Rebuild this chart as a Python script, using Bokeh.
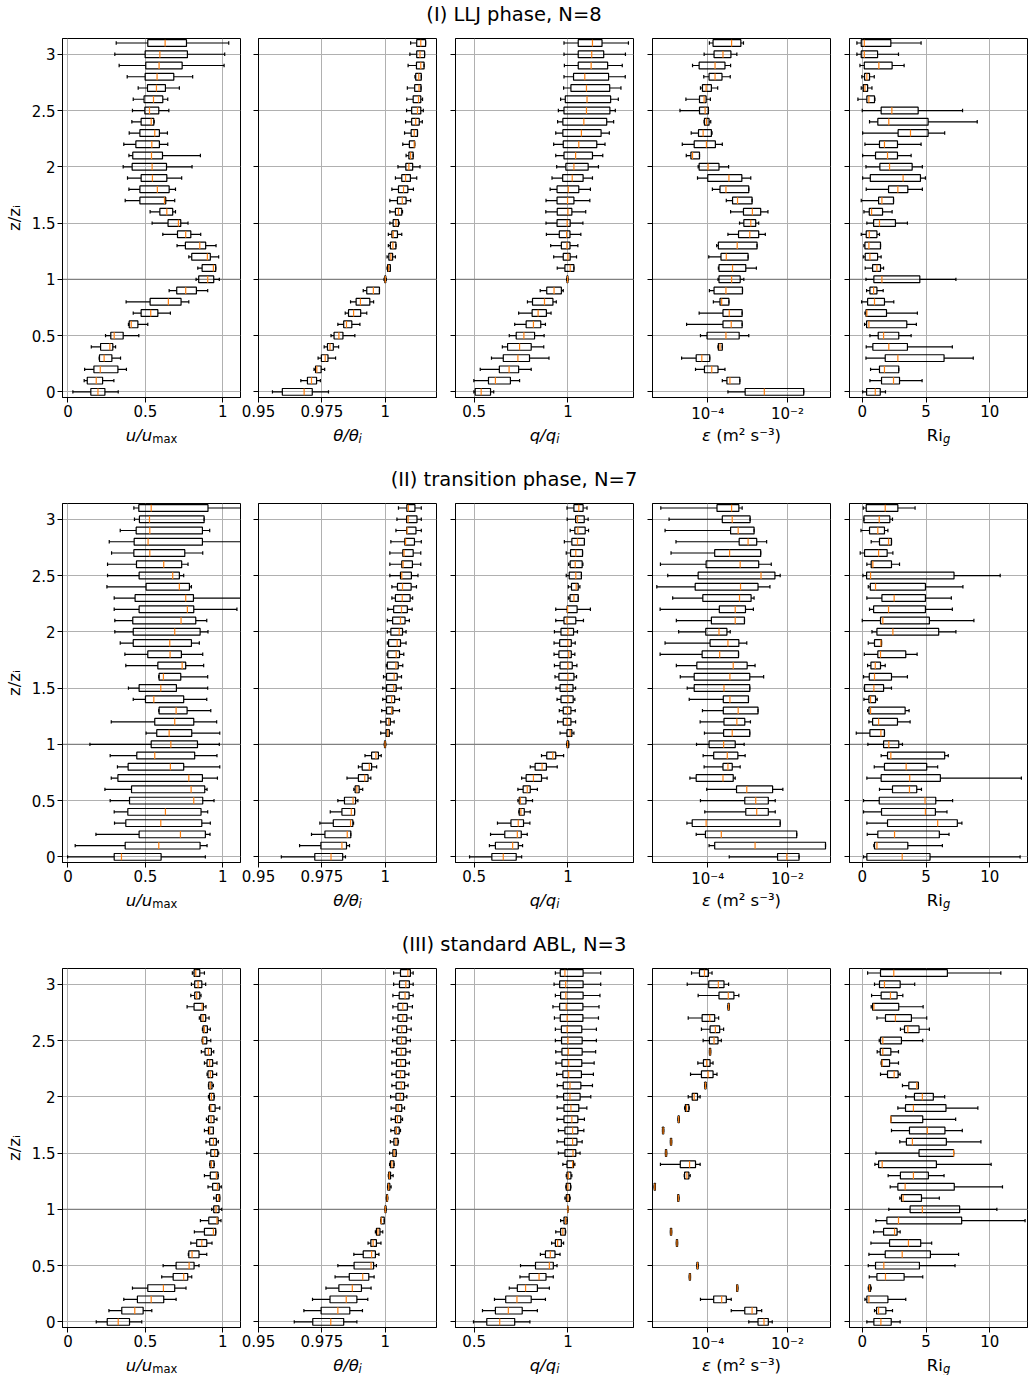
from bokeh.plotting import figure
from bokeh.models import (Range1d, FixedTicker, CustomJSTickFormatter, Span,
                          ColumnDataSource, Div)
from bokeh.core.properties import value
from bokeh.layouts import row, column
from bokeh.embed import file_html
from bokeh.resources import INLINE

# ---------------- data ----------------
# height levels z/z_i, listed from top (3.1) to bottom (0.0)
Z = [3.1, 3.0, 2.9, 2.8, 2.7, 2.6, 2.5, 2.4, 2.3, 2.2, 2.1, 2.0, 1.9, 1.8, 1.7, 1.6,
     1.5, 1.4, 1.3, 1.2, 1.1, 1.0, 0.9, 0.8, 0.7, 0.6, 0.5, 0.4, 0.3, 0.2, 0.1, 0.0]

ROW_TITLES = ["(I) LLJ phase, N=8", "(II) transition phase, N=7", "(III) standard ABL, N=3"]
Y_TICKS = [0, 0.5, 1, 1.5, 2, 2.5, 3]
Y_LABEL = "z/zᵢ"

# each record: (lower whisker, q1, median, q3, upper whisker)
# ---- (I) LLJ phase ----
LLJ_U = [
    (0.312, 0.516, 0.628, 0.766, 1.039), (0.303, 0.499, 0.594, 0.772, 1.013),
    (0.331, 0.503, 0.589, 0.738, 1.009), (0.383, 0.499, 0.576, 0.684, 0.806),
    (0.454, 0.514, 0.572, 0.630, 0.720), (0.422, 0.492, 0.553, 0.613, 0.645),
    (0.417, 0.497, 0.527, 0.587, 0.652), (0.413, 0.473, 0.538, 0.555, 0.557),
    (0.396, 0.465, 0.561, 0.591, 0.643), (0.361, 0.439, 0.542, 0.591, 0.645),
    (0.394, 0.419, 0.540, 0.611, 0.856), (0.357, 0.415, 0.544, 0.637, 0.802),
    (0.385, 0.473, 0.546, 0.639, 0.735), (0.394, 0.465, 0.578, 0.654, 0.695),
    (0.370, 0.465, 0.624, 0.632, 0.690), (0.531, 0.594, 0.639, 0.677, 0.695),
    (0.544, 0.647, 0.714, 0.729, 0.776), (0.613, 0.708, 0.761, 0.794, 0.858),
    (0.705, 0.759, 0.852, 0.890, 0.957), (0.781, 0.800, 0.901, 0.920, 0.974),
    (0.839, 0.867, 0.940, 0.955, 0.955), (0.828, 0.845, 0.903, 0.942, 0.978),
    (0.654, 0.703, 0.761, 0.830, 0.903), (0.376, 0.531, 0.649, 0.731, 0.781),
    (0.422, 0.473, 0.535, 0.581, 0.662), (0.391, 0.396, 0.409, 0.452, 0.516),
    (0.243, 0.277, 0.299, 0.357, 0.458), (0.151, 0.211, 0.271, 0.290, 0.308),
    (0.202, 0.204, 0.234, 0.284, 0.340), (0.108, 0.168, 0.209, 0.323, 0.378),
    (0.105, 0.125, 0.183, 0.224, 0.297), (0.032, 0.148, 0.194, 0.239, 0.325),
]
LLJ_TH = [
    (1.0100, 1.0124, 1.0140, 1.0159, 1.0159), (1.0097, 1.0124, 1.0137, 1.0155, 1.0155),
    (1.0090, 1.0123, 1.0140, 1.0153, 1.0153), (1.0117, 1.0120, 1.0132, 1.0142, 1.0142),
    (1.0087, 1.0116, 1.0133, 1.0141, 1.0141), (1.0085, 1.0110, 1.0131, 1.0140, 1.0147),
    (1.0084, 1.0104, 1.0127, 1.0140, 1.0150), (1.0080, 1.0104, 1.0120, 1.0134, 1.0146),
    (1.0076, 1.0102, 1.0114, 1.0127, 1.0127), (1.0069, 1.0095, 1.0114, 1.0116, 1.0116),
    (1.0082, 1.0093, 1.0100, 1.0110, 1.0110), (1.0050, 1.0081, 1.0093, 1.0108, 1.0137),
    (1.0040, 1.0065, 1.0080, 1.0099, 1.0124), (1.0026, 1.0052, 1.0072, 1.0089, 1.0111),
    (1.0018, 1.0048, 1.0067, 1.0082, 1.0100), (1.0018, 1.0040, 1.0052, 1.0065, 1.0068),
    (1.0018, 1.0031, 1.0042, 1.0052, 1.0055), (1.0012, 1.0026, 1.0031, 1.0048, 1.0065),
    (1.0012, 1.0020, 1.0030, 1.0042, 1.0042), (1.0007, 1.0014, 1.0022, 1.0029, 1.0040),
    (1.0007, 1.0009, 1.0013, 1.0020, 1.0020), (0.9995, 0.9998, 1.0000, 1.0002, 1.0004),
    (0.9913, 0.9927, 0.9953, 0.9977, 0.9977), (0.9863, 0.9885, 0.9902, 0.9939, 0.9954),
    (0.9842, 0.9855, 0.9875, 0.9903, 0.9927), (0.9813, 0.9836, 0.9847, 0.9868, 0.9900),
    (0.9786, 0.9798, 0.9817, 0.9833, 0.9880), (0.9759, 0.9772, 0.9782, 0.9795, 0.9816),
    (0.9735, 0.9748, 0.9763, 0.9774, 0.9804), (0.9719, 0.9725, 0.9730, 0.9747, 0.9761),
    (0.9667, 0.9693, 0.9709, 0.9729, 0.9744), (0.9555, 0.9594, 0.9680, 0.9712, 0.9776),
]
LLJ_Q = [
    (0.979, 1.055, 1.131, 1.182, 1.323), (0.979, 1.055, 1.127, 1.191, 1.307),
    (0.981, 1.055, 1.124, 1.212, 1.290), (0.979, 1.030, 1.090, 1.217, 1.306),
    (0.977, 1.016, 1.099, 1.223, 1.283), (0.961, 0.986, 1.102, 1.228, 1.269),
    (0.949, 0.979, 1.099, 1.224, 1.253), (0.945, 0.973, 1.085, 1.207, 1.244),
    (0.935, 0.973, 1.072, 1.177, 1.221), (0.924, 0.975, 1.058, 1.154, 1.198),
    (0.935, 0.979, 1.041, 1.131, 1.186), (0.940, 0.989, 1.032, 1.108, 1.163),
    (0.915, 0.972, 1.023, 1.081, 1.131), (0.905, 0.942, 1.002, 1.058, 1.120),
    (0.883, 0.942, 0.998, 1.032, 1.117), (0.882, 0.943, 1.000, 1.021, 1.095),
    (0.883, 0.942, 0.996, 1.012, 1.080), (0.885, 0.954, 0.993, 1.011, 1.069),
    (0.908, 0.965, 0.995, 1.011, 1.053), (0.924, 0.975, 1.000, 1.012, 1.046),
    (0.943, 0.984, 1.012, 1.032, 1.032), (0.993, 0.995, 0.998, 1.000, 1.000),
    (0.852, 0.887, 0.926, 0.965, 0.975), (0.784, 0.811, 0.875, 0.920, 0.938),
    (0.737, 0.809, 0.841, 0.885, 0.910), (0.716, 0.777, 0.816, 0.855, 0.880),
    (0.687, 0.724, 0.765, 0.822, 0.873), (0.650, 0.678, 0.742, 0.804, 0.871),
    (0.592, 0.655, 0.733, 0.795, 0.899), (0.532, 0.634, 0.686, 0.737, 0.804),
    (0.498, 0.576, 0.613, 0.693, 0.742), (0.498, 0.505, 0.537, 0.587, 0.604),
]
# dissipation rate given as log10(eps)
LLJ_EPS = [
    (-3.959, -3.867, -3.402, -3.170, -3.104), (-4.091, -3.842, -3.618, -3.419, -3.270),
    (-4.382, -4.216, -3.817, -3.568, -3.427), (-4.100, -3.967, -3.817, -3.643, -3.436),
    (-4.183, -4.133, -4.041, -3.909, -3.751), (-4.548, -4.207, -4.091, -4.041, -3.934),
    (-4.697, -4.207, -4.066, -3.983, -3.983), (-4.091, -4.083, -4.033, -3.967, -3.925),
    (-4.415, -4.232, -4.116, -3.909, -3.892), (-4.639, -4.340, -4.033, -3.809, -3.635),
    (-4.539, -4.423, -4.382, -4.207, -4.207), (-4.241, -4.216, -3.992, -3.718, -3.477),
    (-4.257, -4.000, -3.469, -3.145, -2.921), (-3.884, -3.693, -3.544, -2.971, -2.971),
    (-3.535, -3.378, -3.253, -2.888, -2.888), (-3.427, -3.104, -2.880, -2.672, -2.490),
    (-3.203, -3.095, -2.921, -2.797, -2.722), (-3.494, -3.228, -2.946, -2.722, -2.556),
    (-3.776, -3.734, -3.261, -2.763, -2.763), (-3.975, -3.668, -3.535, -2.988, -2.988),
    (-3.734, -3.718, -3.378, -3.046, -2.780), (-3.743, -3.718, -3.402, -3.187, -3.095),
    (-3.959, -3.842, -3.544, -3.129, -3.129), (-3.859, -3.693, -3.651, -3.469, -3.469),
    (-4.216, -3.618, -3.461, -3.137, -3.137), (-4.531, -3.618, -3.411, -3.137, -3.137),
    (-4.183, -4.017, -3.544, -3.212, -2.971), (-3.743, -3.734, -3.693, -3.635, -3.635),
    (-4.656, -4.290, -4.149, -3.950, -3.950), (-4.307, -4.083, -3.900, -3.743, -3.568),
    (-3.635, -3.519, -3.444, -3.195, -3.195), (-3.494, -3.062, -2.581, -1.593, -1.593),
]
LLJ_RI = [
    (-0.42, -0.08, 0.16, 2.24, 4.61), (-0.42, -0.08, 0.16, 1.20, 2.84),
    (-0.18, 0.16, 1.30, 2.34, 3.28), (-0.03, 0.18, 0.36, 0.57, 0.94),
    (-0.08, 0.08, 0.21, 0.42, 0.76), (-0.34, 0.36, 0.52, 0.96, 0.99),
    (0.00, 1.48, 2.32, 4.38, 7.86), (0.57, 1.22, 2.08, 5.16, 9.01),
    (0.03, 2.81, 3.78, 5.16, 6.46), (0.21, 1.35, 1.74, 2.76, 4.61),
    (0.03, 1.04, 1.98, 2.76, 3.83), (0.29, 1.38, 2.14, 3.91, 4.71),
    (0.03, 0.63, 3.20, 4.56, 4.95), (0.31, 2.06, 2.79, 3.57, 4.71),
    (-0.08, 1.28, 1.54, 2.45, 2.45), (0.13, 0.55, 0.73, 1.59, 2.34),
    (0.36, 0.89, 1.35, 2.60, 3.54), (-0.08, 0.31, 0.55, 1.15, 1.35),
    (0.13, 0.21, 0.52, 1.43, 1.43), (0.08, 0.23, 0.60, 1.20, 1.48),
    (0.23, 0.81, 1.15, 1.43, 1.67), (0.29, 0.91, 1.54, 4.51, 7.34),
    (0.34, 0.60, 0.89, 1.15, 1.64), (-0.05, 0.42, 0.96, 1.74, 2.47),
    (0.21, 0.29, 0.36, 1.90, 4.32), (0.18, 0.34, 0.52, 3.49, 4.24),
    (0.60, 1.25, 1.67, 2.86, 3.83), (0.31, 0.83, 2.08, 3.54, 7.06),
    (0.29, 1.80, 2.79, 6.41, 8.70), (0.65, 1.35, 1.74, 2.86, 2.86),
    (0.60, 1.51, 2.45, 2.92, 4.69), (0.03, 0.34, 1.02, 1.41, 1.82),
]
# ---- (II) transition phase ----
TR_U = [
    (0.426, 0.458, 0.538, 0.905, 1.150), (0.430, 0.462, 0.527, 0.880, 0.880),
    (0.338, 0.441, 0.529, 0.869, 0.916), (0.267, 0.428, 0.518, 0.869, 1.150),
    (0.282, 0.426, 0.529, 0.755, 0.871), (0.256, 0.443, 0.619, 0.735, 0.776),
    (0.256, 0.460, 0.677, 0.720, 0.748), (0.252, 0.505, 0.720, 0.785, 0.798),
    (0.299, 0.434, 0.761, 0.811, 1.150), (0.299, 0.460, 0.772, 0.813, 1.092),
    (0.303, 0.419, 0.731, 0.826, 0.897), (0.303, 0.422, 0.690, 0.854, 0.905),
    (0.338, 0.422, 0.658, 0.798, 0.849), (0.368, 0.516, 0.660, 0.733, 0.871),
    (0.374, 0.581, 0.738, 0.761, 0.877), (0.587, 0.589, 0.617, 0.729, 0.903),
    (0.391, 0.460, 0.600, 0.701, 0.903), (0.422, 0.501, 0.555, 0.748, 0.897),
    (0.587, 0.589, 0.699, 0.770, 0.923), (0.280, 0.561, 0.690, 0.813, 0.961),
    (0.505, 0.574, 0.654, 0.800, 0.981), (0.142, 0.538, 0.665, 0.837, 0.978),
    (0.273, 0.445, 0.561, 0.819, 0.963), (0.320, 0.389, 0.662, 0.748, 0.981),
    (0.280, 0.323, 0.781, 0.869, 0.966), (0.239, 0.411, 0.796, 0.884, 0.899),
    (0.273, 0.398, 0.813, 0.871, 0.944), (0.299, 0.387, 0.630, 0.860, 0.903),
    (0.301, 0.374, 0.600, 0.865, 0.920), (0.181, 0.460, 0.727, 0.888, 0.918),
    (0.047, 0.370, 0.587, 0.854, 0.899), (-0.002, 0.299, 0.346, 0.602, 0.888),
]
TR_TH = [
    (1.0052, 1.0085, 1.0091, 1.0117, 1.0142), (1.0046, 1.0084, 1.0090, 1.0125, 1.0142),
    (1.0042, 1.0084, 1.0086, 1.0121, 1.0142), (1.0022, 1.0077, 1.0080, 1.0115, 1.0142),
    (1.0018, 1.0069, 1.0074, 1.0110, 1.0140), (1.0018, 1.0065, 1.0070, 1.0107, 1.0140),
    (1.0018, 1.0060, 1.0065, 1.0103, 1.0129), (1.0026, 1.0048, 1.0068, 1.0102, 1.0123),
    (1.0026, 1.0040, 1.0067, 1.0098, 1.0108), (1.0010, 1.0033, 1.0064, 1.0087, 1.0106),
    (1.0008, 1.0029, 1.0060, 1.0078, 1.0095), (1.0008, 1.0022, 1.0055, 1.0068, 1.0082),
    (1.0008, 1.0013, 1.0047, 1.0060, 1.0082), (1.0007, 1.0010, 1.0043, 1.0056, 1.0073),
    (1.0004, 1.0008, 1.0042, 1.0051, 1.0069), (0.9993, 1.0005, 1.0035, 1.0047, 1.0064),
    (0.9990, 1.0005, 1.0033, 1.0043, 1.0063), (0.9990, 1.0005, 1.0025, 1.0037, 1.0056),
    (0.9986, 1.0005, 1.0025, 1.0030, 1.0056), (0.9982, 1.0003, 1.0014, 1.0020, 1.0035),
    (0.9982, 1.0003, 1.0010, 1.0016, 1.0027), (0.9996, 0.9997, 0.9999, 1.0001, 1.0002),
    (0.9920, 0.9946, 0.9963, 0.9973, 0.9984), (0.9894, 0.9909, 0.9937, 0.9946, 0.9966),
    (0.9849, 0.9894, 0.9919, 0.9932, 0.9943), (0.9876, 0.9881, 0.9888, 0.9897, 0.9911),
    (0.9813, 0.9839, 0.9873, 0.9883, 0.9892), (0.9783, 0.9829, 0.9866, 0.9879, 0.9879),
    (0.9742, 0.9795, 0.9863, 0.9872, 0.9875), (0.9709, 0.9762, 0.9850, 0.9864, 0.9864),
    (0.9662, 0.9746, 0.9829, 0.9847, 0.9859), (0.9590, 0.9722, 0.9786, 0.9832, 0.9843),
]
TR_Q = [
    (0.995, 1.032, 1.058, 1.081, 1.102), (0.996, 1.041, 1.051, 1.087, 1.108),
    (1.012, 1.037, 1.053, 1.092, 1.110), (0.981, 1.021, 1.051, 1.088, 1.088),
    (0.991, 1.014, 1.042, 1.078, 1.078), (1.004, 1.012, 1.039, 1.076, 1.080),
    (0.991, 1.007, 1.042, 1.072, 1.072), (1.002, 1.019, 1.044, 1.055, 1.064),
    (1.002, 1.011, 1.032, 1.055, 1.055), (0.935, 0.996, 0.998, 1.049, 1.120),
    (0.935, 0.979, 0.995, 1.042, 1.083), (0.928, 0.963, 1.000, 1.030, 1.051),
    (0.926, 0.956, 1.000, 1.018, 1.039), (0.926, 0.952, 1.004, 1.018, 1.037),
    (0.928, 0.958, 1.000, 1.023, 1.048), (0.931, 0.952, 1.000, 1.032, 1.046),
    (0.936, 0.958, 0.996, 1.027, 1.041), (0.942, 0.963, 1.000, 1.028, 1.037),
    (0.954, 0.975, 0.998, 1.016, 1.039), (0.945, 0.975, 0.996, 1.016, 1.041),
    (0.958, 0.995, 1.012, 1.021, 1.032), (0.993, 0.995, 0.998, 1.004, 1.004),
    (0.859, 0.887, 0.919, 0.935, 0.977), (0.799, 0.825, 0.862, 0.885, 0.943),
    (0.753, 0.777, 0.816, 0.859, 0.889), (0.733, 0.761, 0.783, 0.799, 0.837),
    (0.733, 0.740, 0.746, 0.776, 0.811), (0.738, 0.740, 0.749, 0.767, 0.799),
    (0.624, 0.696, 0.735, 0.763, 0.797), (0.587, 0.663, 0.730, 0.751, 0.783),
    (0.581, 0.613, 0.705, 0.735, 0.758), (0.475, 0.594, 0.655, 0.724, 0.753),
]
TR_EPS = [
    (-5.178, -3.768, -3.402, -3.220, -3.137), (-4.971, -3.635, -3.386, -2.938, -2.938),
    (-5.071, -3.427, -3.237, -2.838, -2.838), (-4.797, -3.212, -2.988, -2.772, -2.523),
    (-4.921, -3.826, -3.452, -2.672, -2.672), (-5.187, -4.041, -3.187, -2.722, -2.407),
    (-5.004, -4.241, -2.664, -2.315, -2.183), (-5.278, -4.315, -3.178, -2.739, -2.440),
    (-4.880, -4.124, -3.203, -2.913, -2.838), (-5.195, -3.710, -3.311, -3.054, -2.855),
    (-4.788, -3.909, -3.311, -3.079, -3.079), (-4.730, -4.050, -3.718, -3.519, -3.436),
    (-5.071, -3.942, -3.494, -3.220, -3.021), (-5.195, -4.141, -3.701, -3.228, -3.228),
    (-4.788, -4.274, -3.361, -3.012, -2.813), (-4.689, -4.340, -3.444, -2.946, -2.598),
    (-4.515, -4.340, -3.593, -2.946, -2.946), (-4.465, -3.610, -3.444, -2.979, -2.979),
    (-4.133, -3.610, -3.237, -2.739, -2.739), (-4.191, -3.593, -3.270, -3.071, -2.929),
    (-4.083, -3.602, -3.386, -2.946, -2.946), (-4.282, -3.967, -3.602, -3.311, -3.087),
    (-4.116, -3.851, -3.510, -3.245, -3.062), (-4.091, -3.618, -3.494, -3.386, -3.187),
    (-4.448, -4.290, -3.618, -3.361, -3.311), (-4.025, -3.278, -3.021, -2.373, -2.116),
    (-4.183, -3.071, -2.797, -2.481, -2.307), (-4.075, -3.046, -2.772, -2.481, -2.307),
    (-4.523, -4.390, -4.041, -2.183, -2.183), (-4.290, -4.058, -3.660, -1.768, -1.768),
    (-3.967, -3.826, -2.813, -1.046, -1.046), (-3.461, -2.249, -2.017, -1.710, -1.710),
]
TR_RI = [
    (0.08, 0.31, 1.80, 2.79, 4.14), (0.13, 0.13, 1.33, 2.16, 2.37),
    (-0.10, 0.57, 1.22, 1.74, 2.01), (0.70, 1.35, 2.06, 2.29, 2.29),
    (-0.16, 0.18, 1.28, 1.95, 2.40), (0.36, 0.70, 0.83, 2.29, 2.92),
    (0.05, 0.34, 0.65, 7.19, 10.81), (0.47, 0.63, 1.04, 4.95, 7.89),
    (0.36, 1.54, 2.50, 4.95, 6.98), (0.57, 0.89, 2.06, 4.95, 7.06),
    (0.00, 1.43, 1.61, 5.26, 8.75), (0.76, 1.15, 2.40, 5.99, 7.34),
    (0.47, 0.96, 1.46, 1.51, 1.51), (0.16, 1.22, 1.43, 3.41, 4.30),
    (0.42, 0.68, 1.02, 1.43, 1.80), (0.10, 0.55, 0.96, 2.29, 3.54),
    (0.16, 0.18, 0.91, 1.67, 2.29), (0.13, 0.52, 0.65, 1.04, 1.17),
    (0.42, 0.52, 0.65, 3.36, 3.67), (0.52, 0.81, 1.28, 2.76, 3.75),
    (-0.47, 0.60, 1.46, 1.74, 1.74), (0.44, 1.67, 2.08, 2.86, 3.15),
    (1.48, 1.98, 2.24, 6.46, 6.74), (0.94, 1.74, 3.44, 5.05, 5.91),
    (0.36, 1.48, 3.72, 6.12, 12.47), (1.35, 2.37, 3.70, 4.27, 4.64),
    (0.10, 1.33, 4.92, 5.76, 7.08), (0.10, 1.51, 4.95, 5.73, 6.64),
    (0.36, 1.98, 5.91, 7.45, 7.81), (0.39, 1.22, 2.53, 6.04, 6.80),
    (0.91, 0.96, 1.15, 3.57, 6.28), (0.10, 0.36, 3.13, 5.31, 12.37),
]
# ---- (III) standard ABL ----
STD_U = [
    (0.804, 0.815, 0.826, 0.852, 0.882), (0.798, 0.819, 0.841, 0.865, 0.890),
    (0.794, 0.819, 0.832, 0.852, 0.860), (0.770, 0.815, 0.867, 0.875, 0.892),
    (0.849, 0.858, 0.873, 0.890, 0.912), (0.869, 0.873, 0.882, 0.901, 0.920),
    (0.867, 0.869, 0.873, 0.897, 0.923), (0.862, 0.886, 0.908, 0.927, 0.942),
    (0.882, 0.899, 0.916, 0.935, 0.963), (0.899, 0.905, 0.920, 0.935, 0.961),
    (0.908, 0.910, 0.920, 0.931, 0.940), (0.908, 0.914, 0.927, 0.944, 0.946),
    (0.912, 0.916, 0.923, 0.951, 0.981), (0.895, 0.908, 0.925, 0.944, 0.963),
    (0.882, 0.908, 0.916, 0.940, 0.940), (0.892, 0.916, 0.940, 0.959, 0.972),
    (0.897, 0.923, 0.948, 0.968, 0.974), (0.916, 0.918, 0.927, 0.944, 0.946),
    (0.882, 0.920, 0.959, 0.970, 0.972), (0.905, 0.935, 0.966, 0.978, 0.991),
    (0.942, 0.959, 0.974, 0.981, 0.981), (0.929, 0.942, 0.957, 0.976, 0.994),
    (0.856, 0.910, 0.963, 0.970, 0.989), (0.817, 0.882, 0.940, 0.955, 0.955),
    (0.794, 0.832, 0.865, 0.897, 0.931), (0.778, 0.781, 0.802, 0.847, 0.897),
    (0.615, 0.699, 0.783, 0.815, 0.847), (0.606, 0.680, 0.748, 0.774, 0.800),
    (0.417, 0.516, 0.617, 0.690, 0.763), (0.361, 0.449, 0.538, 0.619, 0.699),
    (0.265, 0.348, 0.432, 0.486, 0.542), (0.183, 0.254, 0.325, 0.398, 0.477),
]
STD_TH = [
    (1.0033, 1.0060, 1.0089, 1.0099, 1.0110), (1.0033, 1.0056, 1.0081, 1.0095, 1.0110),
    (1.0030, 1.0055, 1.0078, 1.0094, 1.0110), (1.0030, 1.0050, 1.0069, 1.0087, 1.0107),
    (1.0030, 1.0050, 1.0069, 1.0085, 1.0103), (1.0029, 1.0047, 1.0065, 1.0084, 1.0102),
    (1.0029, 1.0046, 1.0064, 1.0082, 1.0099), (1.0026, 1.0044, 1.0063, 1.0081, 1.0098),
    (1.0026, 1.0044, 1.0061, 1.0080, 1.0095), (1.0026, 1.0043, 1.0060, 1.0077, 1.0093),
    (1.0026, 1.0043, 1.0063, 1.0076, 1.0090), (1.0021, 1.0042, 1.0059, 1.0072, 1.0085),
    (1.0023, 1.0042, 1.0051, 1.0065, 1.0076), (1.0023, 1.0040, 1.0048, 1.0061, 1.0068),
    (1.0022, 1.0038, 1.0044, 1.0055, 1.0060), (1.0020, 1.0034, 1.0042, 1.0050, 1.0052),
    (1.0017, 1.0030, 1.0035, 1.0043, 1.0044), (1.0017, 1.0020, 1.0026, 1.0034, 1.0035),
    (1.0012, 1.0013, 1.0016, 1.0021, 1.0031), (1.0009, 1.0010, 1.0013, 1.0018, 1.0023),
    (1.0004, 1.0005, 1.0008, 1.0009, 1.0010), (0.9999, 0.9999, 1.0000, 1.0003, 1.0003),
    (0.9982, 0.9983, 0.9984, 0.9996, 0.9996), (0.9961, 0.9965, 0.9971, 0.9979, 0.9990),
    (0.9932, 0.9943, 0.9952, 0.9965, 0.9983), (0.9876, 0.9913, 0.9946, 0.9961, 0.9975),
    (0.9813, 0.9877, 0.9944, 0.9954, 0.9965), (0.9802, 0.9858, 0.9911, 0.9935, 0.9956),
    (0.9766, 0.9817, 0.9870, 0.9906, 0.9944), (0.9713, 0.9782, 0.9846, 0.9888, 0.9931),
    (0.9679, 0.9747, 0.9813, 0.9860, 0.9910), (0.9641, 0.9714, 0.9785, 0.9836, 0.9888),
]
STD_Q = [
    (0.933, 0.959, 0.984, 1.081, 1.175), (0.926, 0.956, 0.988, 1.081, 1.175),
    (0.933, 0.961, 0.989, 1.081, 1.171), (0.920, 0.956, 0.991, 1.080, 1.166),
    (0.928, 0.959, 0.996, 1.080, 1.163), (0.933, 0.965, 0.996, 1.074, 1.152),
    (0.933, 0.966, 1.000, 1.076, 1.152), (0.935, 0.968, 1.002, 1.076, 1.148),
    (0.936, 0.968, 1.004, 1.074, 1.140), (0.940, 0.973, 1.004, 1.072, 1.136),
    (0.943, 0.975, 1.011, 1.069, 1.131), (0.942, 0.977, 1.011, 1.065, 1.122),
    (0.943, 0.979, 1.016, 1.058, 1.101), (0.942, 0.979, 1.021, 1.053, 1.088),
    (0.949, 0.984, 1.025, 1.053, 1.085), (0.942, 0.982, 1.025, 1.048, 1.076),
    (0.949, 0.984, 1.027, 1.042, 1.065), (0.973, 0.995, 1.025, 1.030, 1.037),
    (0.991, 0.995, 1.002, 1.016, 1.021), (0.989, 0.991, 1.000, 1.014, 1.016),
    (0.984, 0.991, 1.000, 1.009, 1.012), (0.998, 0.999, 1.000, 1.000, 1.001),
    (0.961, 0.979, 0.988, 0.996, 0.996), (0.935, 0.961, 0.973, 0.986, 0.988),
    (0.913, 0.933, 0.945, 0.965, 0.977), (0.853, 0.880, 0.906, 0.931, 0.958),
    (0.747, 0.827, 0.901, 0.922, 0.942), (0.744, 0.793, 0.846, 0.883, 0.922),
    (0.687, 0.730, 0.774, 0.837, 0.901), (0.608, 0.668, 0.728, 0.804, 0.880),
    (0.544, 0.613, 0.682, 0.756, 0.837), (0.496, 0.567, 0.636, 0.716, 0.797),
]
STD_EPS = [
    (-4.407, -4.207, -4.083, -3.983, -3.892), (-4.515, -3.975, -3.734, -3.593, -3.477),
    (-4.241, -3.718, -3.485, -3.344, -3.220), (-3.492, -3.492, -3.477, -3.462, -3.462),
    (-4.490, -4.141, -3.950, -3.826, -3.726), (-4.158, -3.942, -3.809, -3.701, -3.602),
    (-4.116, -3.959, -3.842, -3.743, -3.660), (-3.957, -3.957, -3.942, -3.927, -3.927),
    (-4.249, -4.108, -4.025, -3.942, -3.867), (-4.432, -4.158, -3.992, -3.867, -3.768),
    (-4.073, -4.073, -4.058, -4.043, -4.043), (-4.490, -4.390, -4.340, -4.257, -4.191),
    (-4.581, -4.564, -4.531, -4.473, -4.465), (-4.745, -4.745, -4.730, -4.715, -4.715),
    (-5.135, -5.135, -5.120, -5.105, -5.105), (-4.936, -4.936, -4.921, -4.906, -4.906),
    (-5.061, -5.061, -5.046, -5.031, -5.031), (-5.187, -4.689, -4.456, -4.307, -4.191),
    (-4.589, -4.581, -4.523, -4.473, -4.440), (-5.343, -5.343, -5.328, -5.313, -5.313),
    (-4.754, -4.754, -4.739, -4.724, -4.724), None,
    None, (-4.936, -4.936, -4.921, -4.906, -4.906),
    (-4.787, -4.787, -4.772, -4.757, -4.757), None,
    (-4.272, -4.272, -4.257, -4.242, -4.242), (-4.463, -4.463, -4.448, -4.433, -4.433),
    (-3.276, -3.276, -3.261, -3.246, -3.246), (-4.183, -3.851, -3.651, -3.535, -3.411),
    (-3.411, -3.071, -2.888, -2.772, -2.647), (-2.971, -2.739, -2.589, -2.481, -2.382),
]
STD_RI = [
    (0.42, 1.43, 2.47, 6.67, 10.86), (0.96, 1.35, 1.74, 2.97, 4.11),
    (0.73, 1.48, 2.21, 2.73, 3.18), (0.70, 0.81, 0.91, 2.86, 4.77),
    (1.15, 1.82, 2.60, 3.85, 5.05), (2.99, 3.31, 3.57, 4.45, 5.26),
    (1.33, 1.43, 1.61, 3.07, 4.74), (1.17, 1.41, 1.61, 2.24, 2.84),
    (1.48, 1.51, 1.56, 2.14, 2.84), (1.43, 1.98, 2.50, 2.81, 2.97),
    (3.15, 3.65, 4.27, 4.40, 4.40), (3.41, 4.09, 4.71, 5.57, 6.46),
    (2.79, 3.39, 4.01, 6.56, 9.06), (2.24, 2.24, 2.24, 4.74, 7.32),
    (2.29, 3.70, 5.10, 6.48, 7.84), (2.94, 3.46, 3.93, 6.59, 9.30),
    (1.07, 4.45, 7.16, 7.16, 7.16), (0.99, 1.28, 1.56, 5.81, 10.10),
    (2.03, 2.99, 4.01, 5.18, 6.41), (2.19, 2.79, 3.36, 7.21, 10.99),
    (2.94, 3.07, 3.20, 4.64, 6.04), (2.08, 3.75, 4.71, 7.63, 10.55),
    (1.07, 1.93, 2.84, 7.79, 12.76), (0.89, 1.67, 2.53, 2.73, 2.97),
    (0.68, 2.14, 3.62, 4.58, 5.44), (0.52, 1.80, 3.13, 5.34, 7.55),
    (0.47, 1.04, 1.69, 4.48, 7.27), (0.55, 1.15, 1.82, 3.28, 4.74),
    (0.47, 0.52, 0.57, 0.65, 0.70), (0.21, 0.36, 0.52, 2.01, 3.41),
    (0.96, 1.12, 1.28, 1.85, 2.37), (0.36, 0.91, 1.46, 2.27, 2.97),
]

ROWS = [
    [LLJ_U, LLJ_TH, LLJ_Q, LLJ_EPS, LLJ_RI],
    [TR_U, TR_TH, TR_Q, TR_EPS, TR_RI],
    [STD_U, STD_TH, STD_Q, STD_EPS, STD_RI],
]

# ---------------- styling / layout ----------------
FONT = "DejaVu Sans"
PAGE_W = 1028
FW, FH = 178, 359
BORDERS = [(62, 1), (17, 2), (17, 2), (17, 2), (17, 1)]   # (left, right) per column
B_TOP, B_BOT = 5, 30
TITLE_H = 33
STRIP_H = [38, 38, 18]
BOX_H = 0.06
CAP_H = 0.03
MEDIAN = "#ff7f0e"
GRID = "#b0b0b0"
TICK_PX = "15px"
LAB = 16.5
SUB = 11.5
LABEL_DROP = 37.5      # axis-label baseline below the frame bottom

# (text, style, size, baseline shift)
COLS = [
    dict(rng=(-0.035, 1.115), ticks=[0, 0.5, 1], log=False,
         label=[("u/u", "italic", LAB, 0), ("max", "normal", SUB, -3.5)]),
    dict(rng=(0.95, 1.0202), ticks=[0.95, 0.975, 1], log=False,
         label=[("θ/θ", "italic", LAB, 0), ("i", "italic", SUB, -3.5)]),
    dict(rng=(0.4, 1.35), ticks=[0.5, 1], log=False,
         label=[("q/q", "italic", LAB, 0), ("i", "italic", SUB, -3.5)]),
    dict(rng=(10 ** -5.386, 10 ** -0.921), ticks=[1e-4, 1e-2], log=True,
         label=[("ε", "italic", LAB, 0), (" (m² s⁻³)", "normal", LAB, 0)]),
    dict(rng=(-1.0, 12.95), ticks=[0, 5, 10], log=False,
         label=[("Ri", "normal", LAB, 0), ("g", "italic", SUB, -3.5)]),
]

ADV = {'u': 0.634, '/': 0.337, 'm': 0.974, 'a': 0.613, 'x': 0.592, 'θ': 0.602,
       'i': 0.278, 'q': 0.635, 'ε': 0.541, ' ': 0.318, '(': 0.390, ')': 0.390,
       '²': 0.401, 's': 0.521, '⁻': 0.524, '³': 0.401, 'R': 0.695, 'g': 0.635,
       'z': 0.525}


def text_w(t, size):
    return sum(ADV.get(c, 0.6) for c in t) * size


NUM_FMT = CustomJSTickFormatter(code="return String(tick);")
EMPTY_FMT = CustomJSTickFormatter(code="return '';")
LOG_FMT = CustomJSTickFormatter(code="""
const e = Math.round(Math.log10(tick));
const m = {'-':'\\u207b','0':'\\u2070','1':'\\u00b9','2':'\\u00b2','3':'\\u00b3',
           '4':'\\u2074','5':'\\u2075','6':'\\u2076','7':'\\u2077','8':'\\u2078','9':'\\u2079'};
return '10' + String(e).split('').map(c => m[c]).join('');
""")


def blank_fig(w, h):
    p = figure(width=w, height=h, x_range=Range1d(0, w), y_range=Range1d(0, h),
               x_axis_type=None, y_axis_type=None, toolbar_location=None,
               output_backend="svg", min_border=0)
    p.outline_line_color = None
    p.background_fill_color = "white"
    p.border_fill_color = "white"
    p.grid.visible = False
    return p


def put_text(p, x, y, t, size, style="normal"):
    p.text(x=[x], y=[y], text=[t], text_font=value(FONT),
           text_font_size=value(f"{size}px"), text_font_style=value(style),
           text_align=value("left"), text_baseline=value("alphabetic"),
           text_color="black")


def make_panel(table, spec, c):
    extra = dict(x_axis_type="log") if spec["log"] else {}
    bl, br = BORDERS[c]
    p = figure(frame_width=FW, frame_height=FH, output_backend="svg",
               toolbar_location=None, x_range=Range1d(*spec["rng"]),
               y_range=Range1d(-0.05, 3.14),
               min_border_left=bl, min_border_right=br,
               min_border_top=B_TOP, min_border_bottom=B_BOT, **extra)
    p.background_fill_color = "white"
    p.border_fill_color = "white"
    p.outline_line_color = "black"
    p.outline_line_width = 1
    p.outline_line_alpha = 1

    zs, lo, q1, md, q3, hi = [], [], [], [], [], []
    for z, rec in zip(Z, table):
        if rec is None:
            continue
        vals = [10 ** v for v in rec] if spec["log"] else list(rec)
        zs.append(z)
        lo.append(vals[0]); q1.append(vals[1]); md.append(vals[2])
        q3.append(vals[3]); hi.append(vals[4])
    src = ColumnDataSource(dict(
        z=zs, lo=lo, q1=q1, md=md, q3=q3, hi=hi,
        c0=[z - CAP_H / 2 for z in zs], c1=[z + CAP_H / 2 for z in zs],
        b0=[z - BOX_H / 2 for z in zs], b1=[z + BOX_H / 2 for z in zs]))

    p.add_layout(Span(location=1, dimension="width", line_color="#808080",
                      line_width=1.2, level="underlay"))

    lw = 1.2
    p.segment(x0="lo", y0="z", x1="q1", y1="z", source=src, line_color="black", line_width=lw)
    p.segment(x0="q3", y0="z", x1="hi", y1="z", source=src, line_color="black", line_width=lw)
    p.segment(x0="lo", y0="c0", x1="lo", y1="c1", source=src, line_color="black", line_width=lw)
    p.segment(x0="hi", y0="c0", x1="hi", y1="c1", source=src, line_color="black", line_width=lw)
    p.hbar(y="z", left="q1", right="q3", height=BOX_H, source=src, fill_alpha=0,
           line_color="black", line_width=lw)
    p.segment(x0="md", y0="b0", x1="md", y1="b1", source=src, line_color=MEDIAN, line_width=lw)

    p.xaxis.ticker = FixedTicker(ticks=spec["ticks"])
    p.xaxis.formatter = LOG_FMT if spec["log"] else NUM_FMT
    p.yaxis.ticker = FixedTicker(ticks=Y_TICKS)
    p.yaxis.formatter = NUM_FMT if c == 0 else EMPTY_FMT
    for ax in (p.xaxis[0], p.yaxis[0]):
        ax.major_label_text_font = FONT
        ax.major_label_text_font_size = TICK_PX
        ax.major_label_text_color = "black"
        ax.major_label_standoff = 2
        ax.major_tick_out = 5
        ax.major_tick_in = 0
        ax.major_tick_line_color = "black"
        ax.minor_tick_line_color = None
        ax.axis_line_color = "black"
    if c == 0:
        ya = p.yaxis[0]
        ya.axis_label = Y_LABEL
        ya.axis_label_text_font = FONT
        ya.axis_label_text_font_size = f"{LAB}px"
        ya.axis_label_text_font_style = "normal"
        ya.axis_label_text_color = "black"
        ya.axis_label_standoff = 5
    p.xgrid.grid_line_color = GRID
    p.ygrid.grid_line_color = GRID
    p.xgrid.grid_line_width = 1
    p.ygrid.grid_line_width = 1
    return p


# frame left edges on the page (for placing axis labels in the strip below)
frame_left = []
xpos = 0
for bl, br in BORDERS:
    frame_left.append(xpos + bl)
    xpos += bl + FW + br

children = []
for r, (title, tables) in enumerate(zip(ROW_TITLES, ROWS)):
    children.append(Div(text=title, width=PAGE_W, height=TITLE_H, margin=0,
                        styles={"text-align": "center", "font-size": "19.5px",
                                "font-family": FONT, "line-height": "29px",
                                "color": "black"}))
    figs = [make_panel(tab, spec, c) for c, (tab, spec) in enumerate(zip(tables, COLS))]
    children.append(row(*figs, spacing=0))

    # x-axis label strip
    sh = STRIP_H[r]
    strip = blank_fig(PAGE_W, sh)
    base = sh - (LABEL_DROP - B_BOT)
    for c, spec in enumerate(COLS):
        total = sum(text_w(t, s) for t, _, s, _ in spec["label"])
        xx = frame_left[c] + FW / 2 - total / 2
        for t, st, s, dy in spec["label"]:
            lead = len(t) - len(t.lstrip(" "))
            xx += text_w(" " * lead, s)          # leading blanks: advance instead
            put_text(strip, xx, base + dy, t.lstrip(" "), s, style=st)
            xx += text_w(t.lstrip(" "), s)
    children.append(strip)

layout = column(*children, spacing=0)

open("out.html", "w").write(file_html(layout, INLINE))
